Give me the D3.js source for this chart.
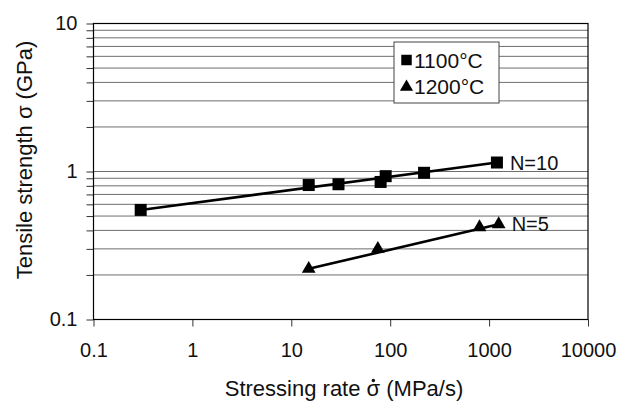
<!DOCTYPE html>
<html>
<head>
<meta charset="utf-8">
<script src="https://cdn.jsdelivr.net/npm/d3@7"></script>
<style>
  body { margin: 0; background: #fff; }
  svg { font-family: "Liberation Sans", Arial, sans-serif; }
</style>
</head>
<body>
<div id="chart"></div>
<script>
var width = 618
var height = 401

// data
var xTicks = [0.1, 1, 10, 100, 1000, 10000]
var yTicks = [0.1, 1, 10]
var series = ["1100°C", "1200°C"]
var slopeLabels = ["N=10", "N=5"]

var rate1100 = [0.3, 15, 30, 80, 90, 220, 1200]
var strength1100 = [0.55, 0.81, 0.82, 0.85, 0.93, 0.98, 1.15]
var rate1200 = [15, 75, 800, 1250]
var strength1200 = [0.22, 0.30, 0.42, 0.44]

// fitted power-law lines (end points)
var fitRate1100 = [0.3, 1200]
var fitStrength1100 = [0.55, 1.15]
var fitRate1200 = [15, 1250]
var fitStrength1200 = [0.22, 0.44]

var margin = {left: 93.5, right: 588, top: 23.5, bottom: 319.5}

var x = d3.scaleLog().domain([0.1, 10000]).range([margin.left, margin.right])
var y = d3.scaleLog().domain([0.1, 10]).range([margin.bottom, margin.top])

var svg = d3.select("#chart").append("svg")
    .attr("width", width).attr("height", height)

svg.append("rect").attr("width", width).attr("height", height).attr("fill", "#fff")

// horizontal gridlines at every log tick
var yMinor = y.ticks()
svg.append("g").attr("class", "grid")
  .selectAll("line")
  .data(yMinor.filter(function(d) { return d > 0.1 && d < 10 }))
  .enter().append("line")
    .attr("x1", margin.left).attr("x2", margin.right)
    .attr("y1", function(d) { return y(d) }).attr("y2", function(d) { return y(d) })
    .attr("stroke", "#6e6e6e").attr("stroke-width", 1)

var fmt = d3.format("~g")

var bAxis = d3.axisBottom(x).tickValues(xTicks).tickFormat(fmt)
    .tickSize(7).tickSizeOuter(0).tickPadding(16)
var lAxis = d3.axisLeft(y).tickValues(yMinor)
    .tickFormat(function(d) { return yTicks.indexOf(d) >= 0 ? fmt(d) : "" })
    .tickSize(7).tickSizeOuter(0).tickPadding(9)

svg.append("g")
  .attr("transform", "translate(0," + margin.bottom + ")")
  .call(bAxis)
svg.append("g")
  .attr("transform", "translate(" + margin.left + ",0)")
  .call(lAxis)

svg.selectAll(".tick line").attr("stroke", "#333")
svg.selectAll(".tick text").attr("fill", "#111").style("font-size", "20px")
svg.selectAll(".domain").remove()

// plot frame
svg.append("rect")
  .attr("x", margin.left).attr("y", margin.top)
  .attr("width", margin.right - margin.left).attr("height", margin.bottom - margin.top)
  .attr("fill", "none").attr("stroke", "#000").attr("stroke-width", 1.2)

// fit lines
var line = d3.line().x(function(d) { return x(d[0]) }).y(function(d) { return y(d[1]) })
var fits = [d3.zip(fitRate1100, fitStrength1100), d3.zip(fitRate1200, fitStrength1200)]
svg.selectAll("path.fit")
  .data(fits).enter().append("path")
    .attr("class", "fit")
    .attr("d", line)
    .attr("fill", "none").attr("stroke", "#000").attr("stroke-width", 2.6)

// squares
var pts1100 = d3.zip(rate1100, strength1100)
svg.selectAll("rect.sq")
  .data(pts1100).enter().append("rect")
    .attr("class", "sq")
    .attr("x", function(d) { return x(d[0]) - 6 })
    .attr("y", function(d) { return y(d[1]) - 6 })
    .attr("width", 12).attr("height", 12)
    .attr("fill", "#000")

// triangles
var tri = d3.symbol().type(d3.symbolTriangle).size(82)
var pts1200 = d3.zip(rate1200, strength1200)
svg.selectAll("path.tri")
  .data(pts1200).enter().append("path")
    .attr("class", "tri")
    .attr("d", tri)
    .attr("transform", function(d) { return "translate(" + x(d[0]) + "," + y(d[1]) + ")" })
    .attr("fill", "#000")

// N labels
var ends = [[fitRate1100[1], fitStrength1100[1]], [fitRate1200[1], fitStrength1200[1]]]
svg.selectAll("text.nlab")
  .data(slopeLabels).enter().append("text")
    .attr("class", "nlab")
    .attr("x", function(d, i) { return x(ends[i][0]) + 13 })
    .attr("y", function(d, i) { return y(ends[i][1]) + 7 })
    .style("font-size", "20px").attr("fill", "#111")
    .text(function(d) { return d })

// legend
var legend = svg.append("g").attr("transform", "translate(394,42)")
legend.append("rect")
  .attr("width", 105).attr("height", 61)
  .attr("fill", "#fff").attr("stroke", "#444").attr("stroke-width", 1)
var items = legend.selectAll("g.item")
  .data(series).enter().append("g")
    .attr("class", "item")
    .attr("transform", function(d, i) { return "translate(0," + (18 + i * 26) + ")" })
items.append("path")
  .attr("d", function(d, i) {
    return d3.symbol().type(i == 0 ? d3.symbolSquare : d3.symbolTriangle).size(i == 0 ? 110 : 75)()
  })
  .attr("transform", function(d, i) { return "translate(12.5," + (i == 0 ? 0 : 1) + ")" })
  .attr("fill", "#000")
items.append("text")
  .attr("x", 20).attr("y", 7.5)
  .style("font-size", "21px").attr("fill", "#111")
  .text(function(d) { return d })

// axis titles
var xTitle = svg.append("text")
  .attr("x", 344).attr("y", 396)
  .attr("text-anchor", "middle")
  .style("font-size", "22px").attr("fill", "#111")
  .text("Stressing rate \u03C3 (MPa/s)")

// dot over the sigma (rate)
var sigmaBox = xTitle.node().getExtentOfChar(15)
svg.append("circle")
  .attr("cx", sigmaBox.x + sigmaBox.width / 2)
  .attr("cy", 380.5)
  .attr("r", 1.7)
  .attr("fill", "#111")

svg.append("text")
  .attr("transform", "translate(31.5,160) rotate(-90)")
  .attr("text-anchor", "middle")
  .style("font-size", "22px").attr("fill", "#111")
  .text("Tensile strength \u03C3 (GPa)")
</script>
</body>
</html>
